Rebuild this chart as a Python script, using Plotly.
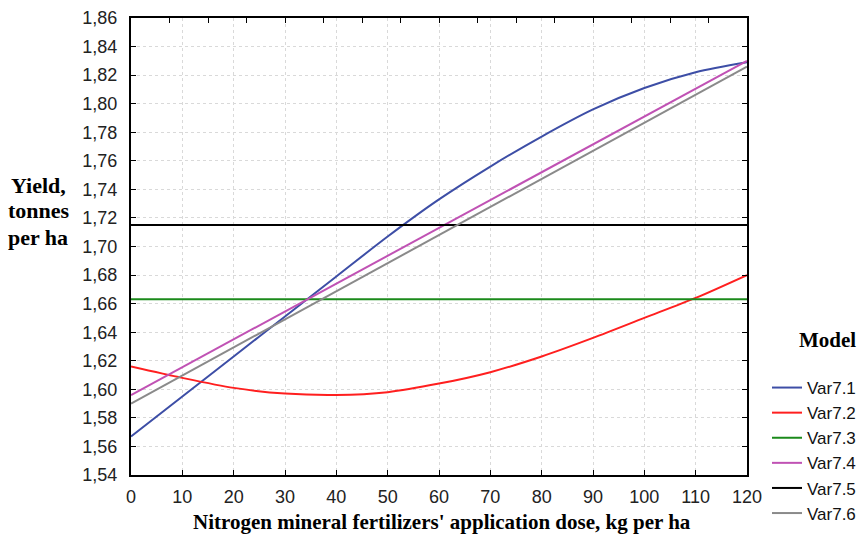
import plotly.graph_objects as go

# Nitrogen dose (kg per ha) and modelled yield (tonnes per ha)
dose = [0, 10, 20, 30, 40, 50, 60, 70, 80, 90, 100, 110, 120]
var71 = [1.567, 1.595, 1.623, 1.651, 1.679, 1.707, 1.733, 1.756, 1.777, 1.796, 1.811, 1.822, 1.829]
var72 = [1.616, 1.608, 1.601, 1.597, 1.596, 1.598, 1.604, 1.612, 1.623, 1.636, 1.650, 1.664, 1.680]

# straight-line models: values at the two ends of the dose range
dose_ends = [0, 120]
var73 = [1.663, 1.663]
var74 = [1.596, 1.830]
var75 = [1.715, 1.715]
var76 = [1.590, 1.826]

y_ticks = [1.54 + 0.02 * i for i in range(17)]
x_ticks = list(range(0, 121, 10))

series = [
    ("Var7.1", dose, var71, "#3d4ea6", "spline"),
    ("Var7.2", dose, var72, "#ff1f1f", "spline"),
    ("Var7.3", dose_ends, var73, "#1b8a1b", "linear"),
    ("Var7.4", dose_ends, var74, "#c052b4", "linear"),
    ("Var7.5", dose_ends, var75, "#000000", "linear"),
    ("Var7.6", dose_ends, var76, "#8a8a8a", "linear"),
]

fig = go.Figure()
for name, xs, ys, color, shape in series:
    fig.add_trace(go.Scatter(
        x=xs, y=ys, name=name, mode="lines",
        line=dict(color=color, width=2, shape=shape, smoothing=0.8),
    ))

# empty trace that carries the top tick axis
fig.add_trace(go.Scatter(x=[0, 120], y=[None, None], xaxis="x2", yaxis="y",
                         mode="lines", showlegend=False, hoverinfo="skip"))

W, H = 865, 541
L, R, T, B = 131, 118, 18, 66
pw, ph = W - L - R, H - T - B


def px(xp):
    return (xp - L) / pw


def py(yp):
    return (H - B - yp) / ph


tick_font = dict(family="Liberation Sans, Arial", size=18, color="#222222")
title_font = dict(family="Liberation Serif, Times New Roman", size=21, color="#000000")

fig.update_layout(
    width=W, height=H,
    margin=dict(l=L, r=R, t=T, b=B, pad=0, autoexpand=False),
    paper_bgcolor="white", plot_bgcolor="white",
    separators=", ",
    showlegend=True,
    legend=dict(
        x=px(767), y=py(370), xanchor="left", yanchor="top",
        font=dict(family="Liberation Sans, Arial", size=17, color="#111111"),
        bgcolor="rgba(0,0,0,0)", borderwidth=0,
        tracegroupgap=0,
    ),
    xaxis=dict(
        range=[0, 120], tickvals=x_ticks,
        ticks="inside", ticklen=5, tickwidth=1, tickcolor="black",
        showline=True, linecolor="black", linewidth=2, mirror=True,
        showgrid=True, gridcolor="#d9d9d9", griddash="dot", gridwidth=1,
        zeroline=False, tickfont=tick_font, ticklabelstandoff=4,
    ),
    xaxis2=dict(
        range=[0, 120], overlaying="x", side="top", anchor="y",
        dtick=7.5, tick0=0, ticks="inside", ticklen=5, tickwidth=1,
        tickcolor="black", showticklabels=False, showgrid=False,
        zeroline=False, showline=False,
    ),
    yaxis=dict(
        range=[1.54, 1.86], tickvals=y_ticks, tickformat=".2f",
        ticks="inside", ticklen=5, tickwidth=1, tickcolor="black",
        showline=True, linecolor="black", linewidth=2, mirror="ticks",
        showgrid=True, gridcolor="#d9d9d9", griddash="dot", gridwidth=1,
        zeroline=False, tickfont=tick_font, ticklabelstandoff=8,
    ),
    annotations=[
        dict(text="<b>Nitrogen mineral fertilizers' application dose, kg per ha</b>",
             x=px(442), y=py(522), xref="paper", yref="paper",
             xanchor="center", yanchor="middle", showarrow=False, font=title_font),
        dict(text="<b>Yield,</b>", x=px(9), y=py(185), xref="paper", yref="paper",
             xanchor="left", yanchor="middle", showarrow=False,
             font=dict(title_font, size=22)),
        dict(text="<b>tonnes</b>", x=px(6), y=py(211), xref="paper", yref="paper",
             xanchor="left", yanchor="middle", showarrow=False,
             font=dict(title_font, size=22)),
        dict(text="<b>per ha</b>", x=px(6), y=py(237), xref="paper", yref="paper",
             xanchor="left", yanchor="middle", showarrow=False,
             font=dict(title_font, size=22)),
        dict(text="<b>Model</b>", x=px(827), y=py(340), xref="paper", yref="paper",
             xanchor="center", yanchor="middle", showarrow=False,
             font=dict(title_font, size=21)),
    ],
)

fig.write_html("out.html")
